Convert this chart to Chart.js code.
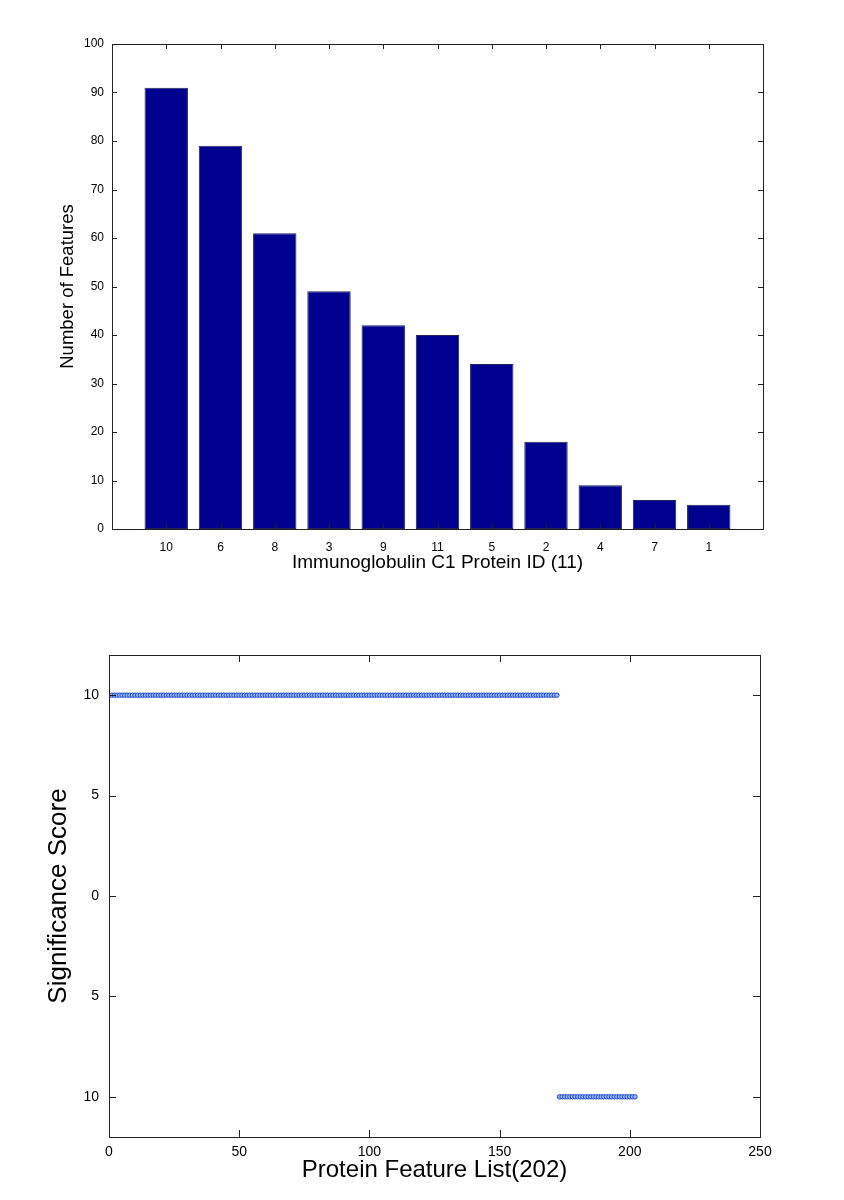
<!DOCTYPE html>
<html>
<head>
<meta charset="utf-8">
<script src="https://cdn.jsdelivr.net/npm/chart.js@4.4.1/dist/chart.umd.min.js"></script>
<style>
  body { margin: 0; background: #fff; }
  canvas { display: block; }
</style>
</head>
<body>
<canvas id="barChart" width="844" height="600"></canvas>
<canvas id="scoreChart" width="844" height="600"></canvas>
<script>
/************************
 *      Data
 ************************/
const PROTEIN_IDS = ["10", "6", "8", "3", "9", "11", "5", "2", "4", "7", "1"]
const FEATURE_COUNTS = [91, 79, 61, 49, 42, 40, 34, 18, 9, 6, 5]
const BAR_Y_TICKS = [0, 10, 20, 30, 40, 50, 60, 70, 80, 90, 100]

// significance score of each of the 202 protein features, in list order
const SCORES = [
    10,10,10,10,10,10,10,10,10,10,10,10,10,10,10,10,10,10,10,10,
    10,10,10,10,10,10,10,10,10,10,10,10,10,10,10,10,10,10,10,10,
    10,10,10,10,10,10,10,10,10,10,10,10,10,10,10,10,10,10,10,10,
    10,10,10,10,10,10,10,10,10,10,10,10,10,10,10,10,10,10,10,10,
    10,10,10,10,10,10,10,10,10,10,10,10,10,10,10,10,10,10,10,10,
    10,10,10,10,10,10,10,10,10,10,10,10,10,10,10,10,10,10,10,10,
    10,10,10,10,10,10,10,10,10,10,10,10,10,10,10,10,10,10,10,10,
    10,10,10,10,10,10,10,10,10,10,10,10,10,10,10,10,10,10,10,10,
    10,10,10,10,10,10,10,10,10,10,10,10,
    -10,-10,-10,-10,-10,-10,-10,-10,-10,-10,-10,-10,-10,-10,-10,-10,-10,-10,-10,-10,
    -10,-10,-10,-10,-10,-10,-10,-10,-10,-10
]
const SCORE_X_TICKS = [0, 50, 100, 150, 200, 250]
const SCORE_Y_TICKS = [-10, -5, 0, 5, 10]

const FONT = "'Liberation Sans', Arial, Helvetica, sans-serif"

/************************
 *      Plugin
 ************************/
// matlab style box with inward tick marks
const frameTicks = {
    id: 'frameTicks',
    afterDraw(chart, args, opts) {
        const { ctx, chartArea: a } = chart
        const len = opts.len || 5
        const xs = chart.scales.x
        const ys = chart.scales.y
        ctx.save()
        ctx.strokeStyle = '#222'
        ctx.lineWidth = 1
        ctx.strokeRect(Math.round(a.left) + .5, Math.round(a.top) + .5,
            Math.round(a.right - a.left), Math.round(a.bottom - a.top))
        ctx.beginPath()
        xs.ticks.forEach(t => {
            const px = Math.round(xs.getPixelForValue(t.value)) + .5
            ctx.moveTo(px, a.bottom); ctx.lineTo(px, a.bottom - len)
            ctx.moveTo(px, a.top); ctx.lineTo(px, a.top + len)
        })
        ys.ticks.forEach(t => {
            const py = Math.round(ys.getPixelForValue(t.value)) + .5
            ctx.moveTo(a.left, py); ctx.lineTo(a.left + len, py)
            ctx.moveTo(a.right, py); ctx.lineTo(a.right - len, py)
        })
        ctx.stroke()
        ctx.restore()
    }
}

const noGrid = { display: false, drawTicks: false }
const noBorder = { display: false }

/************************
 *      Charts
 ************************/
const createBarChart = () => {
    const points = PROTEIN_IDS.map((id, i) => ({ x: i + 1, y: FEATURE_COUNTS[i] }))

    new Chart("barChart", {
        type: "bar",
        data: {
            datasets: [{
                data: points,
                backgroundColor: '#00008f',
                borderColor: '#23235a',
                borderWidth: 1,
                borderSkipped: false,
                categoryPercentage: 1,
                barPercentage: 0.8
            }]
        },
        plugins: [frameTicks],
        options: {
            responsive: false,
            animation: false,
            layout: { padding: { left: 0, right: 81, top: 44, bottom: 0 } },
            plugins: {
                legend: { display: false },
                tooltip: { enabled: false },
                frameTicks: { len: 5 }
            },
            scales: {
                x: {
                    type: 'linear',
                    min: 0,
                    max: 12,
                    offset: false,
                    grid: { ...noGrid, offset: false },
                    border: noBorder,
                    afterBuildTicks: scale => {
                        scale.ticks = PROTEIN_IDS.map((id, i) => ({ value: i + 1 }))
                    },
                    afterFit: scale => { scale.height = 71 },
                    ticks: {
                        padding: 11,
                        color: '#000',
                        maxRotation: 0,
                        autoSkip: false,
                        font: { family: FONT, size: 12 },
                        callback: v => PROTEIN_IDS[v - 1] ?? ''
                    },
                    title: {
                        display: true,
                        text: 'Immunoglobulin C1 Protein ID (11)',
                        color: '#000',
                        font: { family: FONT, size: 19 },
                        padding: { top: 26, bottom: 26 }
                    }
                },
                y: {
                    min: 0,
                    max: 100,
                    grid: noGrid,
                    border: noBorder,
                    afterBuildTicks: scale => {
                        scale.ticks = BAR_Y_TICKS.map(v => ({ value: v }))
                    },
                    afterFit: scale => { scale.width = 112 },
                    ticks: {
                        padding: 8,
                        color: '#000',
                        font: { family: FONT, size: 12 }
                    },
                    title: {
                        display: true,
                        text: 'Number of Features',
                        color: '#000',
                        font: { family: FONT, size: 18.5 },
                        padding: { top: 57, bottom: 57 }
                    }
                }
            }
        }
    })
}

const createScoreChart = () => {
    const points = SCORES.map((s, i) => ({ x: i + 1, y: s }))

    new Chart("scoreChart", {
        type: "scatter",
        data: {
            datasets: [{
                data: points,
                pointStyle: 'circle',
                pointRadius: 2.2,
                pointBorderWidth: 1,
                borderColor: '#1c46c4',
                backgroundColor: '#9cbcff'
            }]
        },
        plugins: [frameTicks],
        options: {
            responsive: false,
            animation: false,
            layout: { padding: { left: 0, right: 84, top: 55, bottom: 0 } },
            plugins: {
                legend: { display: false },
                tooltip: { enabled: false },
                frameTicks: { len: 7 }
            },
            scales: {
                x: {
                    type: 'linear',
                    min: 0,
                    max: 250,
                    grid: noGrid,
                    border: noBorder,
                    afterBuildTicks: scale => {
                        scale.ticks = SCORE_X_TICKS.map(v => ({ value: v }))
                    },
                    afterFit: scale => { scale.height = 63 },
                    ticks: {
                        padding: 7,
                        color: '#000',
                        maxRotation: 0,
                        font: { family: FONT, size: 14 }
                    },
                    title: {
                        display: true,
                        text: 'Protein Feature List(202)',
                        color: '#000',
                        font: { family: FONT, size: 24 },
                        padding: { top: 15, bottom: 15 }
                    }
                },
                y: {
                    type: 'linear',
                    min: -12,
                    max: 12,
                    grid: noGrid,
                    border: noBorder,
                    afterBuildTicks: scale => {
                        scale.ticks = SCORE_Y_TICKS.map(v => ({ value: v }))
                    },
                    afterFit: scale => { scale.width = 109 },
                    ticks: {
                        padding: 10,
                        color: '#000',
                        font: { family: FONT, size: 14 },
                        // the source figure prints negative ticks without a minus sign
                        callback: v => String(Math.abs(v))
                    },
                    title: {
                        display: true,
                        text: 'Significance Score',
                        color: '#000',
                        font: { family: FONT, size: 26 },
                        padding: { top: 43, bottom: 43 }
                    }
                }
            }
        }
    })
}

createBarChart()
createScoreChart()
</script>
</body>
</html>
